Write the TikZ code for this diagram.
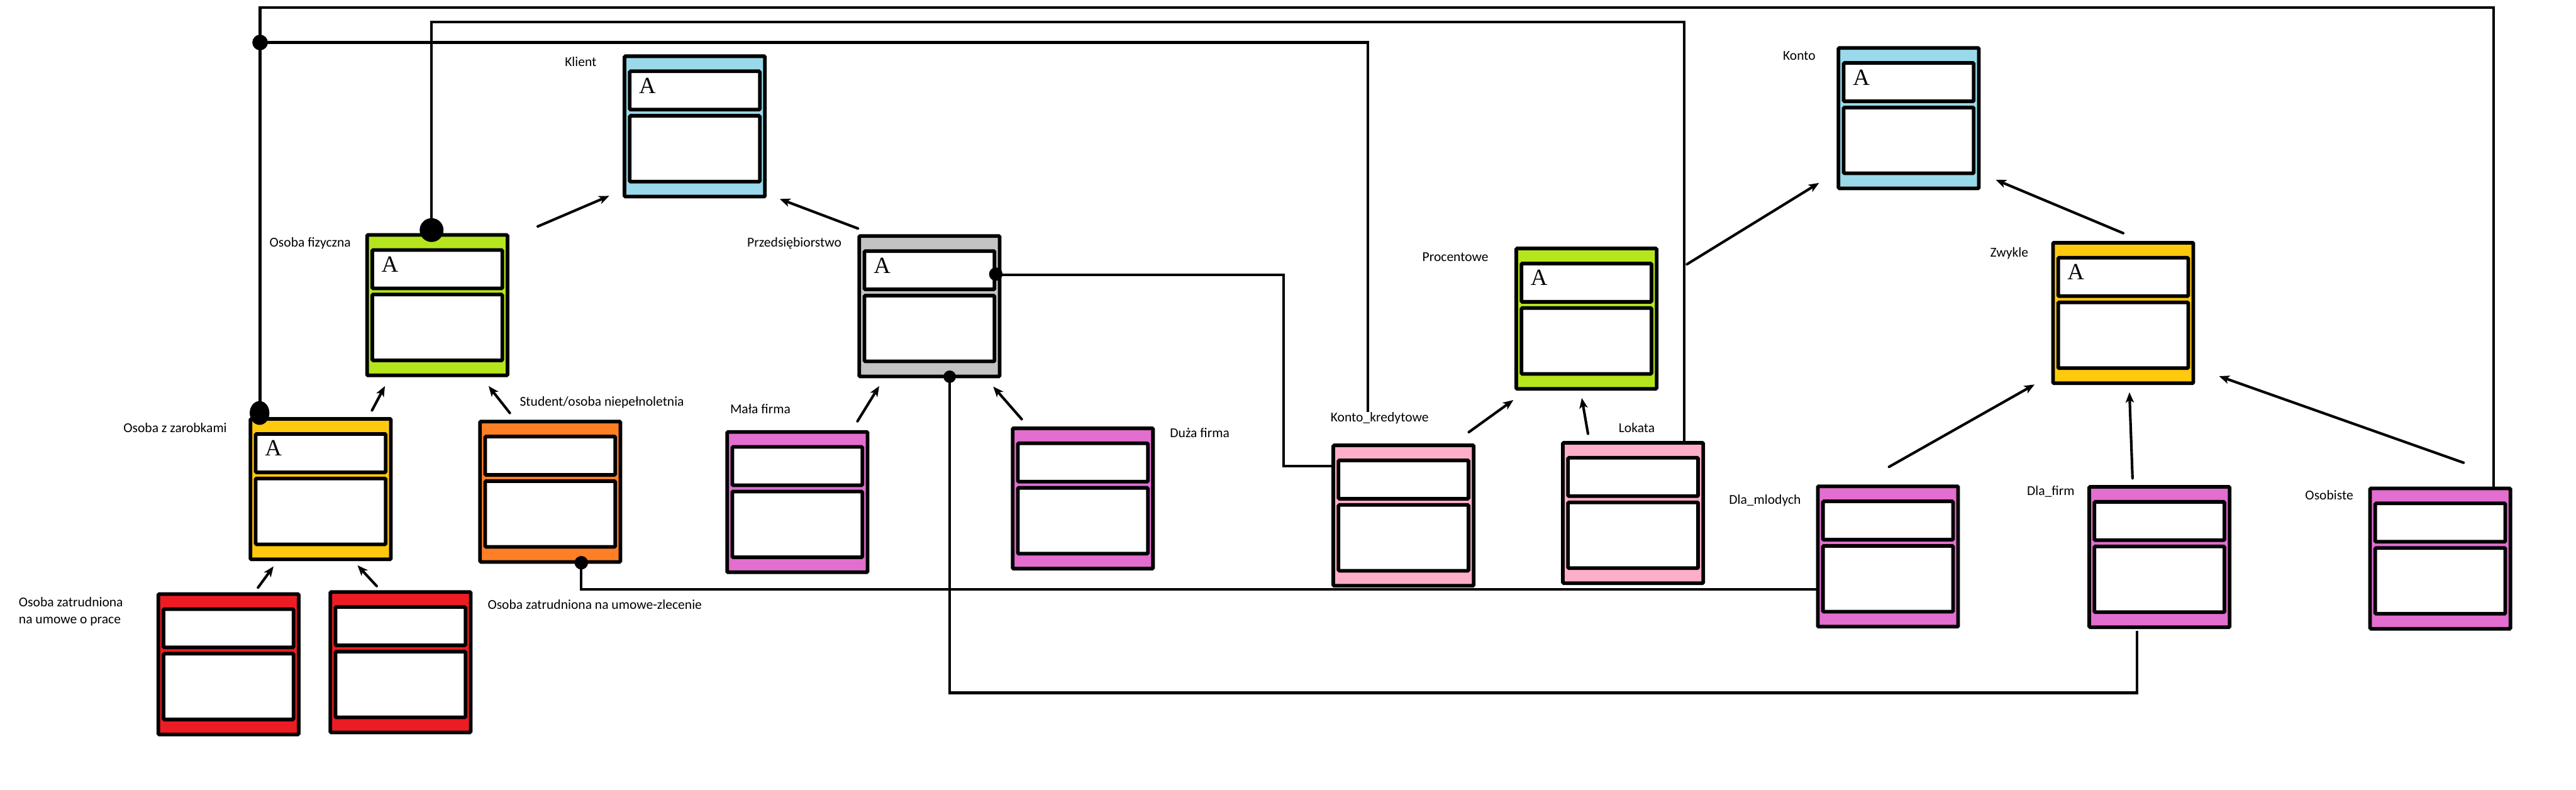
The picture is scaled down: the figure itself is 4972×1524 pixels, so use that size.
\documentclass[tikz,border=0pt]{standalone}
\usepackage{fontspec}
\setmainfont{Carlito}
\newfontfamily\letterfont{Liberation Serif}
\usetikzlibrary{calc,arrows.meta,shapes.geometric}
\definecolor{cblue}{HTML}{99D9EA}
\definecolor{cgreen}{HTML}{B5E61D}
\definecolor{cgray}{HTML}{C3C3C3}
\definecolor{cyellow}{HTML}{FFC90E}
\definecolor{corange}{HTML}{FF7F27}
\definecolor{cred}{HTML}{ED1C24}
\definecolor{cmag}{HTML}{E26ECF}
\definecolor{cpink}{HTML}{FFAEC9}
\tikzset{
  clsbox/.style={draw=black, line width=3.98pt, minimum width=5.42cm, minimum height=5.42cm, inner sep=0pt, anchor=north west, rounded corners=1pt},
  compart/.style={draw=black, fill=white, line width=3.98pt, rounded corners=1pt},
  letterA/.style={font=\letterfont\fontsize{25.5}{30}\selectfont, inner sep=0pt, anchor=base west},
  lbl/.style={font=\fontsize{14.9}{18.2}\selectfont, inner sep=0pt, anchor=base west},
  wire/.style={line width=2.85pt},
  arr/.style={line width=2.85pt, line cap=round, -{Stealth[length=0.4cm,width=0.32cm,inset=0.1cm]}},
  dotnode/.style={circle, fill=black, inner sep=0pt},
}
\newcommand\umlcls[4]{%
  \node[clsbox, fill=#3] (#1) at (#2) {};
  \draw[compart] ($(#1.north west)+(13.5,32.5)$) rectangle ($(#1.north west)+(264.5,106.5)$);
  \draw[compart] ($(#1.north west)+(13.5,118.5)$) rectangle ($(#1.north west)+(264.5,245.5)$);
  \node[letterA] (#1-A) at ($(#1.north west)+(31,75)$) {#4};
}
\begin{document}
\begin{tikzpicture}[x=0.02cm,y=-0.02cm]
\fill[white] (0,0) rectangle (4972,1524);
\useasboundingbox (0,0) rectangle (4972,1524);

% labels
\node[lbl] (lklient) at (1090,128) {Klient};
\node[lbl] (lkonto) at (3441,116) {Konto};
\node[lbl] (lfiz) at (520,477) {Osoba fizyczna};
\node[lbl] (lprz) at (1442,477) {Przedsiębiorstwo};
\node[lbl] (lproc) at (2745,504) {Procentowe};
\node[lbl] (lzwy) at (3841,496) {Zwykle};
\node[lbl] (lzar) at (238,835) {Osoba z zarobkami};
\node[lbl] (lstu) at (1003,784) {Student/osoba niepełnoletnia};
\node[lbl] (lmala) at (1409,798) {Mała firma};
\node[lbl] (lduza) at (2258,844) {Duża firma};
\node[lbl] (lkred) at (2568,814) {Konto\_kredytowe};
\node[lbl] (llok) at (3124,834) {Lokata};
\node[lbl] (lmlo) at (3337,973) {Dla\_mlodych};
\node[lbl] (lfirm) at (3912,956) {Dla\_firm};
\node[lbl] (losob) at (4449,965) {Osobiste};
\node[lbl] (lprace1) at (36,1171) {Osoba zatrudniona};
\node[lbl] (lprace2) at (36,1203) {na umowe o prace};
\node[lbl] (lzlec) at (941,1176) {Osoba zatrudniona na umowe-zlecenie};

% wires
\draw[wire] (502,797) -- (502,15) -- (4813,15) -- (4813,939);
\draw[wire] (833,444) -- (833,43) -- (3251,43) -- (3251,851);
\draw[wire] (502,82) -- (2640,82) -- (2640,82 |- lkred.north);
\draw[wire] (1922,530) -- (2477,530) -- (2477,899) -- (2570,899);
\draw[wire] (1833,727) -- (1833,1337) -- (4125,1337) -- (4125,1218);
\draw[wire] (1122,1086) -- (1122,1137) -- (3505,1137);

% boxes
\umlcls{klient}{1202,105}{cblue}{A}
\umlcls{konto}{3545,89}{cblue}{A}
\umlcls{fizyczna}{705,450}{cgreen}{A}
\umlcls{przeds}{1655,452}{cgray}{A}
\umlcls{procentowe}{2923,476}{cgreen}{A}
\umlcls{zwykle}{3959,465}{cyellow}{A}
\umlcls{zarobkami}{480,805}{cyellow}{A}
\umlcls{student}{923,810}{corange}{}
\umlcls{mala}{1400,830}{cmag}{}
\umlcls{duza}{1951,823}{cmag}{}
\umlcls{kredytowe}{2570,856}{cpink}{}
\umlcls{lokata}{3013,851}{cpink}{}
\umlcls{mlodych}{3505,935}{cmag}{}
\umlcls{dlafirm}{4029,936}{cmag}{}
\umlcls{osobiste}{4571,939}{cmag}{}
\umlcls{redA}{302,1143}{cred}{}
\umlcls{redB}{634,1139}{cred}{}

% dots
\node[dotnode, minimum size=0.92cm] (dfiz) at (833,444) {};
\node[dotnode, ellipse, minimum width=0.76cm, minimum height=0.92cm] (dzar) at (501,797) {};
\node[dotnode, minimum size=0.6cm] (djunc) at (502,82) {};
\node[dotnode, minimum size=0.52cm] (dprzR) at (1922,529) {};
\node[dotnode, minimum size=0.48cm] (dprzB) at (1833,727) {};
\node[dotnode, minimum size=0.52cm] (dstu) at (1122,1086) {};

% arrows (generalisation)
\draw[arr] ($(fizyczna.north west)+(333,-13)$) -- ($(klient.north west)+(-26,273)$);
\draw[arr] ($(przeds.north west)+(1,-11)$) -- ($(klient.north west)+(303,279)$);
\draw[arr] ($(zarobkami.north west)+(238,-13)$) -- ($(fizyczna.north west)+(38,295)$);
\draw[arr] ($(student.north west)+(61,-13)$) -- ($(fizyczna.north west)+(238,295)$);
\draw[arr] ($(redA.north west)+(196,-9)$) -- ($(zarobkami.north west)+(48,288)$);
\draw[arr] ($(redB.north west)+(93,-8)$) -- ($(zarobkami.north west)+(210,286)$);
\draw[arr] ($(mala.north west)+(255,-17)$) -- ($(przeds.north west)+(42,293)$);
\draw[arr] ($(duza.north west)+(21,-14)$) -- ($(przeds.north west)+(262,294)$);
\draw[arr] ($(kredytowe.north west)+(265,-22)$) -- ($(procentowe.north west)+(-2,296)$);
\draw[arr] ($(lokata.north west)+(52,-14)$) -- ($(procentowe.north west)+(130,292)$);
\draw[arr] ($(procentowe.north west)+(333,34)$) -- ($(konto.north west)+(-34,264)$);
\draw[arr] ($(zwykle.north west)+(139,-15)$) -- ($(konto.north west)+(307,258)$);
\draw[arr] ($(mlodych.north west)+(141,-34)$) -- ($(zwykle.north west)+(-32,277)$);
\draw[arr] ($(dlafirm.north west)+(87,-13)$) -- ($(zwykle.north west)+(151,292)$);
\draw[arr] ($(osobiste.north west)+(184,-46)$) -- ($(zwykle.north west)+(324,261)$);
\end{tikzpicture}
\end{document}
